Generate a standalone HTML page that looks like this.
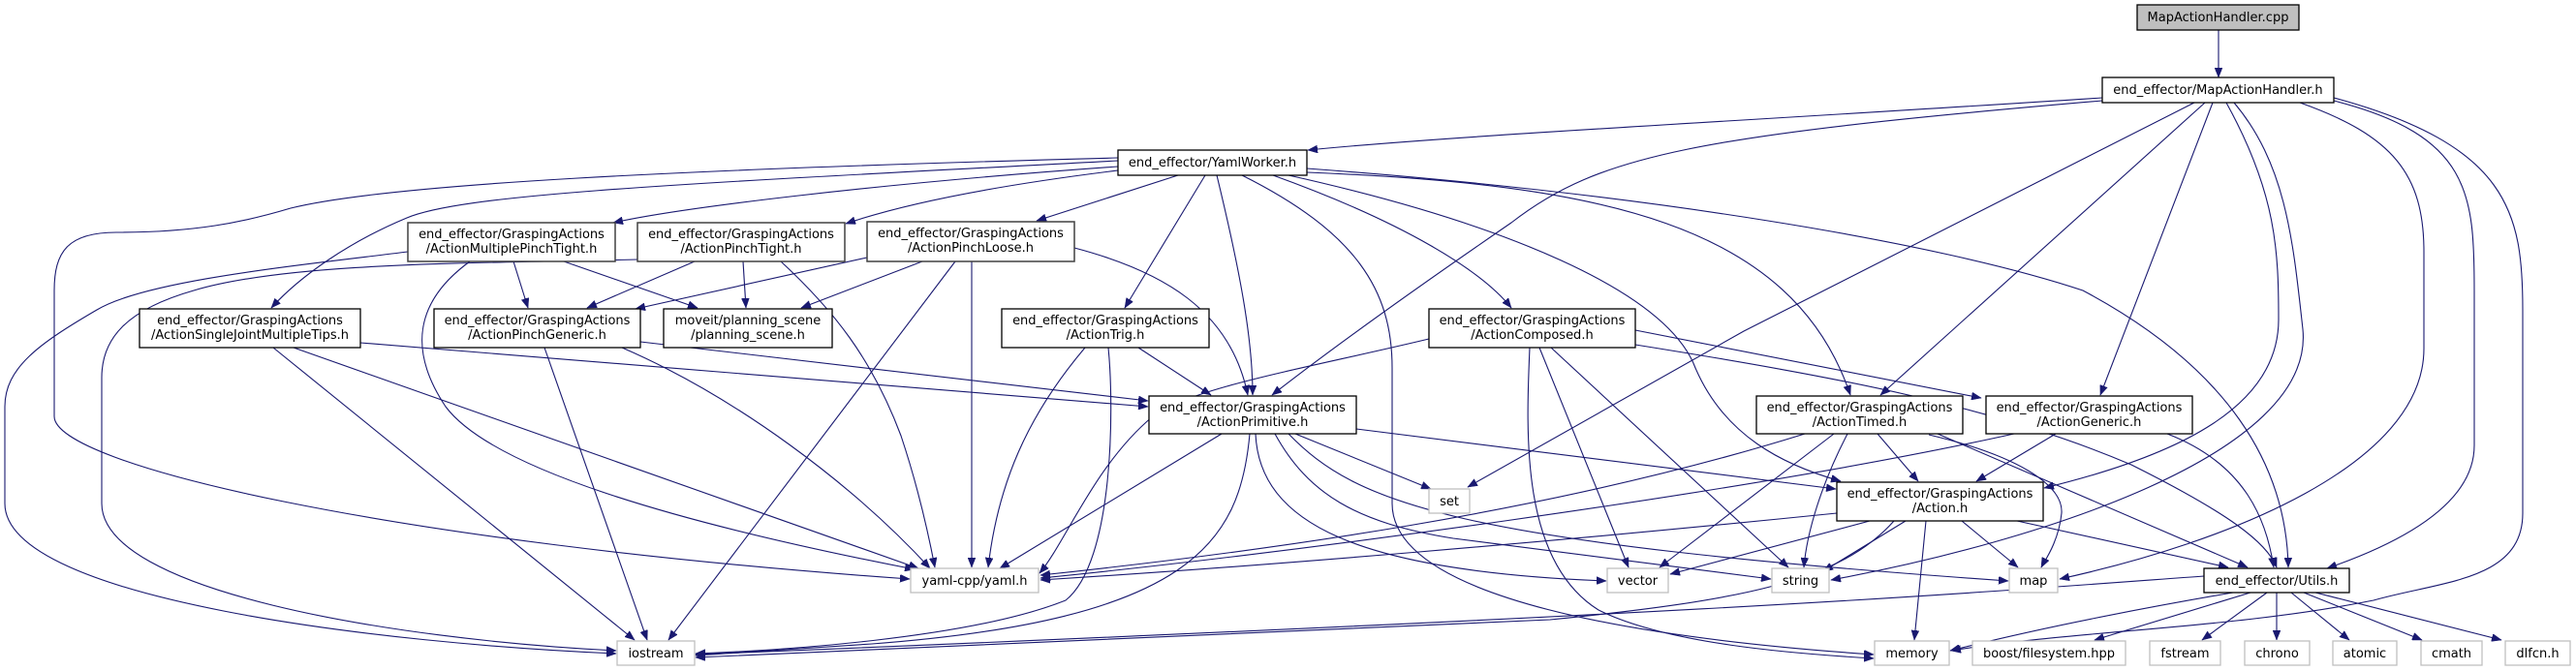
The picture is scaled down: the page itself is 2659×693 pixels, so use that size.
<!DOCTYPE html>
<html><head><meta charset="utf-8">
<style>
html,body{margin:0;padding:0;background:#fff;}
svg{display:block;}
text{font-family:"DejaVu Sans","Liberation Sans",sans-serif;font-size:13px;fill:#000;text-anchor:middle;}
.e{fill:none;stroke:#191970;stroke-width:1.1;marker-end:url(#a);}
.n{fill:#fff;stroke:#000;stroke-width:1.3;}
.d{fill:#fff;stroke:#404040;stroke-width:1.5;}
.g{fill:#fff;stroke:#bfbfbf;stroke-width:1.3;}
</style></head>
<body>
<svg width="2659" height="693" viewBox="0 0 2659 693" xmlns="http://www.w3.org/2000/svg">
<defs>
<marker id="a" markerUnits="userSpaceOnUse" markerWidth="11" markerHeight="8" refX="10" refY="4" orient="auto">
<path d="M0,0 L10,4 L0,8 z" fill="#191970" stroke="#191970" stroke-width="0.5"/>
</marker>
</defs>

<!-- edges -->
<path class="e" d="M2290,31 L2290,80"/>
<path class="e" d="M2170,101 C1800,125 1500,140 1350,155"/>
<path class="e" d="M2170,104 C1750,140 1650,160 1560,230 Q1400,340 1313,408"/>
<path class="e" d="M2265,106 L1800,342 L1515,503"/>
<path class="e" d="M2276,106 L1941,408"/>
<path class="e" d="M2284,106 L2168,408"/>
<path class="e" d="M2298,106 C2350,200 2352,260 2352,330 C2352,420 2250,470 2110,504"/>
<path class="e" d="M2306,106 C2360,170 2367,250 2377,340 C2390,470 2100,560 1890,599"/>
<path class="e" d="M2374,106 C2470,140 2502,180 2502,260 L2502,360 C2502,480 2300,560 2126,598"/>
<path class="e" d="M2409,104 C2550,140 2554,200 2554,300 L2554,460 C2554,520 2480,560 2402,587"/>
<path class="e" d="M2409,101 C2590,150 2604,220 2604,320 L2604,530 C2604,600 2520,600 2450,620 C2300,650 2150,650 2014,672"/>

<path class="e" d="M1154,172 C900,190 700,215 633,230"/>
<path class="e" d="M1154,176 C1000,195 920,215 873,231"/>
<path class="e" d="M1216,181 L1070,228"/>
<path class="e" d="M1154,166 C700,190 480,200 420,225 C360,250 310,285 280,318"/>
<path class="e" d="M1154,163 C700,175 400,190 300,215 C250,230 200,240 120,240 C70,240 56,260 56,300 L56,430 C56,480 400,560 939,598"/>
<path class="e" d="M1244,181 L1161,318"/>
<path class="e" d="M1256,181 C1280,280 1293,350 1293,408"/>
<path class="e" d="M1282,181 C1400,240 1437,300 1437,380 L1437,520 C1437,620 1700,660 1934,676"/>
<path class="e" d="M1314,181 C1450,230 1530,280 1560,318"/>
<path class="e" d="M1349,178 C1650,190 1850,230 1910,408"/>
<path class="e" d="M1330,181 C1550,230 1720,300 1750,380 C1780,450 1840,480 1900,497"/>
<path class="e" d="M1349,174 C1700,200 2000,250 2150,300 C2300,380 2360,480 2362,586"/>

<path class="e" d="M530,270 L545,318"/>
<path class="e" d="M582,270 L720,318"/>
<path class="e" d="M485,270 C430,310 420,360 460,420 C520,500 800,560 944,588"/>
<path class="e" d="M421,260 C300,275 150,290 100,320 C40,355 5,380 5,420 L5,520 C5,620 400,665 636,675"/>
<path class="e" d="M658,268 C500,272 300,270 200,300 C130,320 105,350 105,390 L105,520 C105,610 400,660 636,672"/>
<path class="e" d="M717,270 L606,318"/>
<path class="e" d="M767,270 L770,318"/>
<path class="e" d="M806,270 C860,320 900,370 930,450 C950,510 960,560 965,586"/>
<path class="e" d="M895,266 L656,319"/>
<path class="e" d="M952,270 L827,318"/>
<path class="e" d="M986,270 L690,661"/>
<path class="e" d="M1003,270 L1003,586"/>
<path class="e" d="M1109,256 C1200,280 1270,320 1288,408"/>
<path class="e" d="M372,354 L1185,420"/>
<path class="e" d="M303,359 L948,587"/>
<path class="e" d="M282,359 L655,661"/>
<path class="e" d="M661,353 L1185,414"/>
<path class="e" d="M642,359 C760,410 880,500 960,587"/>
<path class="e" d="M562,359 L668,661"/>
<path class="e" d="M1175,359 L1250,408"/>
<path class="e" d="M1120,359 C1060,430 1030,500 1020,586"/>
<path class="e" d="M1144,359 C1150,420 1150,580 1100,620 C1000,660 800,672 718,675"/>
<path class="e" d="M1337,448 L1477,505"/>
<path class="e" d="M1261,448 L1032,587"/>
<path class="e" d="M1400,443 L1895,505"/>
<path class="e" d="M1290,448 C1280,560 1230,640 900,665 L718,677"/>
<path class="e" d="M1296,448 C1300,540 1400,590 1658,600"/>
<path class="e" d="M1316,448 C1350,510 1400,540 1500,556 L1828,598"/>
<path class="e" d="M1330,448 C1400,520 1500,560 2073,600"/>
<path class="e" d="M1475,350 C1350,380 1230,400 1190,430 C1130,480 1100,560 1073,592"/>
<path class="e" d="M1589,359 L1681,586"/>
<path class="e" d="M1601,359 L1846,586"/>
<path class="e" d="M1579,359 C1575,450 1570,580 1650,630 C1720,665 1850,675 1934,680"/>
<path class="e" d="M1688,341 L2045,411"/>
<path class="e" d="M1688,356 C1900,390 2060,420 2200,480 C2300,530 2340,560 2350,586"/>
<path class="e" d="M1863,448 C1600,530 1300,570 1074,594"/>
<path class="e" d="M1893,448 L1713,586"/>
<path class="e" d="M1907,448 C1880,500 1865,550 1862,586"/>
<path class="e" d="M1938,448 L1980,497"/>
<path class="e" d="M1991,449 C2080,470 2130,500 2128,530 C2125,560 2110,580 2107,586"/>
<path class="e" d="M2000,448 L2320,586"/>
<path class="e" d="M2079,448 C1800,510 1300,575 1074,597"/>
<path class="e" d="M2122,448 L2040,497"/>
<path class="e" d="M2237,448 C2320,480 2340,540 2347,586"/>
<path class="e" d="M1896,530 C1600,560 1300,585 1074,599"/>
<path class="e" d="M1930,538 L1724,593"/>
<path class="e" d="M1967,538 L1882,590"/>
<path class="e" d="M2025,538 L2083,586"/>
<path class="e" d="M1988,538 L1976,661"/>
<path class="e" d="M1955,538 C1900,600 1800,620 1600,640 L718,679"/>
<path class="e" d="M2082,538 L2300,586"/>
<path class="e" d="M2275,595 C2000,615 1800,632 718,676"/>
<path class="e" d="M2305,612 C2200,630 2100,650 2013,672"/>
<path class="e" d="M2323,612 L2162,661"/>
<path class="e" d="M2340,612 L2273,661"/>
<path class="e" d="M2350,612 L2350,661"/>
<path class="e" d="M2365,612 L2425,661"/>
<path class="e" d="M2378,612 L2500,661"/>
<path class="e" d="M2390,612 L2582,661"/>

<!-- nodes -->
<rect x="2206" y="5" width="167" height="26" fill="#bfbfbf" stroke="#000" stroke-width="1.3"/>
<text x="2289.5" y="22">MapActionHandler.cpp</text>
<rect class="n" x="2170" y="80" width="239" height="26"/>
<text x="2289.5" y="97">end_effector/MapActionHandler.h</text>
<rect class="n" x="1154" y="155" width="195" height="26"/>
<text x="1251.5" y="172">end_effector/YamlWorker.h</text>

<rect class="d" x="421" y="230" width="214" height="40"/>
<text x="528" y="246">end_effector/GraspingActions</text><text x="528" y="261">/ActionMultiplePinchTight.h</text>
<rect class="d" x="658" y="230" width="214" height="40"/>
<text x="765" y="246">end_effector/GraspingActions</text><text x="765" y="261">/ActionPinchTight.h</text>
<rect class="d" x="895" y="229" width="214" height="41"/>
<text x="1002" y="245">end_effector/GraspingActions</text><text x="1002" y="260">/ActionPinchLoose.h</text>

<rect class="n" x="144" y="319" width="228" height="40"/>
<text x="258" y="335">end_effector/GraspingActions</text><text x="258" y="350">/ActionSingleJointMultipleTips.h</text>
<rect class="n" x="448" y="319" width="213" height="40"/>
<text x="554.5" y="335">end_effector/GraspingActions</text><text x="554.5" y="350">/ActionPinchGeneric.h</text>
<rect class="n" x="685" y="319" width="174" height="40"/>
<text x="772" y="335">moveit/planning_scene</text><text x="772" y="350">/planning_scene.h</text>
<rect class="n" x="1034" y="319" width="214" height="40"/>
<text x="1141" y="335">end_effector/GraspingActions</text><text x="1141" y="350">/ActionTrig.h</text>
<rect class="n" x="1475" y="319" width="213" height="40"/>
<text x="1581.5" y="335">end_effector/GraspingActions</text><text x="1581.5" y="350">/ActionComposed.h</text>

<rect class="n" x="1186" y="409" width="214" height="39"/>
<text x="1293" y="425">end_effector/GraspingActions</text><text x="1293" y="440">/ActionPrimitive.h</text>
<rect class="n" x="1813" y="409" width="213" height="39"/>
<text x="1919.5" y="425">end_effector/GraspingActions</text><text x="1919.5" y="440">/ActionTimed.h</text>
<rect class="n" x="2050" y="409" width="213" height="39"/>
<text x="2156.5" y="425">end_effector/GraspingActions</text><text x="2156.5" y="440">/ActionGeneric.h</text>
<rect class="n" x="1896" y="498" width="213" height="40"/>
<text x="2002.5" y="514">end_effector/GraspingActions</text><text x="2002.5" y="529">/Action.h</text>

<rect class="g" x="1475" y="505" width="42" height="25"/><text x="1496" y="522">set</text>
<rect class="g" x="940" y="587" width="132" height="25"/><text x="1006" y="604">yaml-cpp/yaml.h</text>
<rect class="g" x="1659" y="587" width="63" height="25"/><text x="1690.5" y="604">vector</text>
<rect class="g" x="1829" y="587" width="59" height="25"/><text x="1858.5" y="604">string</text>
<rect class="g" x="2074" y="587" width="50" height="25"/><text x="2099" y="604">map</text>
<rect class="n" x="2275" y="587" width="150" height="25"/><text x="2350" y="604">end_effector/Utils.h</text>

<rect class="g" x="637" y="662" width="80" height="25"/><text x="677" y="679">iostream</text>
<rect class="g" x="1935" y="662" width="77" height="25"/><text x="1973.5" y="679">memory</text>
<rect class="g" x="2036" y="662" width="158" height="25"/><text x="2115" y="679">boost/filesystem.hpp</text>
<rect class="g" x="2219" y="662" width="73" height="25"/><text x="2255.5" y="679">fstream</text>
<rect class="g" x="2317" y="662" width="67" height="25"/><text x="2350.5" y="679">chrono</text>
<rect class="g" x="2408" y="662" width="66" height="25"/><text x="2441" y="679">atomic</text>
<rect class="g" x="2499" y="662" width="63" height="25"/><text x="2530.5" y="679">cmath</text>
<rect class="g" x="2586" y="662" width="67" height="25"/><text x="2619.5" y="679">dlfcn.h</text>
</svg>
</body></html>
